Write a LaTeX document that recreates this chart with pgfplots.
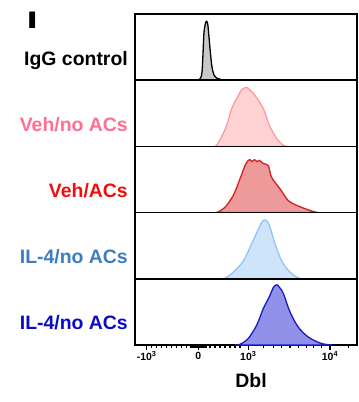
\documentclass[border=0pt]{standalone}
\usepackage{pgfplots}
\pgfplotsset{compat=1.18}
\usepackage{fontspec}
\setmainfont{Liberation Sans}
\definecolor{iggfill}{HTML}{C8C8C8}
\definecolor{vnfill}{HTML}{FFD2D4}
\definecolor{vnline}{HTML}{FF9A9A}
\definecolor{vnlab}{HTML}{FF6F93}
\definecolor{vafill}{HTML}{EE9A9A}
\definecolor{valine}{HTML}{D71F1F}
\definecolor{valab}{HTML}{F20D0D}
\definecolor{lbfill}{HTML}{CDE4FB}
\definecolor{lbline}{HTML}{90C4F8}
\definecolor{lblab}{HTML}{3B7DBF}
\definecolor{dbfill}{HTML}{9191EA}
\definecolor{dbline}{HTML}{1A1ACC}
\definecolor{dblab}{HTML}{0A0AC8}
\pgfplotsset{
  panel/.style={
    scale only axis, width=222bp, height=66.2bp,
    xmin=0, xmax=222, ymin=0, ymax=100,
    xtick=\empty, ytick=\empty,
    axis line style={line width=1.5bp, black},
    anchor=north west,
  },
  curve/.style={smooth, tension=0.55, line width=1.3bp},
}
\begin{document}
\begin{tikzpicture}
\path[use as bounding box] (0,0) rectangle (359bp,-402bp);
% panel 1: IgG control
\begin{axis}[panel, at={(135bp,-14bp)}]
\addplot[curve, draw=black, fill=iggfill] coordinates {
(60,0) (64,0.5) (65.5,3) (67,12) (68,40) (69,72) (70.5,86) (71.7,89) (72.8,84) (74,65) (75.5,40) (77,20) (79,8) (82,3) (86,1) (90,0)
} \closedcycle;
\end{axis}
% panel 2: Veh/no ACs
\begin{axis}[panel, at={(135bp,-80.2bp)}]
\addplot[curve, draw=vnline, fill=vnfill] coordinates {
(78,0) (81,1) (85.7,12) (91.7,32) (96.7,57) (103.3,77) (107,86) (111.7,89) (115,85) (120,77) (128.3,57) (134.3,32) (141.7,12) (148,2) (152,0)
} \closedcycle;
\end{axis}
% panel 3: Veh/ACs
\begin{axis}[panel, at={(135bp,-146.4bp)}]
\addplot[curve, draw=valine, fill=vafill] coordinates {
(80,0) (83,1) (90,8) (98.3,26) (105,51) (110,71) (113.3,79) (115,80) (117,77) (119.5,80) (122,77) (124.3,79) (128.3,74) (133.3,71) (136.7,53) (145,36) (153.3,18) (161.7,11) (171.7,5) (180,1) (184,0)
} \closedcycle;
\end{axis}
% panel 4: IL-4/no ACs (light blue)
\begin{axis}[panel, at={(135bp,-212.6bp)}]
\addplot[curve, draw=lbline, fill=lbfill] coordinates {
(86,0) (90,1) (98.3,10) (108.3,27) (116.7,53) (123.3,75) (127,86) (130,89) (132.5,86) (135,78) (140,53) (146.7,27) (155,10) (163,1.5) (167,0)
} \closedcycle;
\end{axis}
% panel 5: IL-4/no ACs (dark blue)
\begin{axis}[panel, at={(135bp,-278.8bp)},
  xtick={11.7,63.3,113.3,195},
  xticklabels={-10\textsuperscript{3},0,10\textsuperscript{3},10\textsuperscript{4}},
  minor xtick={16.7,21.7,26.7,31.7,36.7,41.7,46.7,51.7,56,58,60,61.5,62.5,64.2,65.5,67,69,71,75,80,85,90,95,100,105,128.3,138.3,146.7,155,163.3,171.7,178.3,186.7,213.3},
  xtick pos=bottom, tick align=outside,
  major tick length=5bp, minor tick length=3bp,
  every tick/.style={black, line width=1.1bp},
  xticklabel style={font=\bfseries\fontsize{10.5}{12}\selectfont, inner sep=1.5bp},
]
\addplot[curve, draw=dbline, fill=dbfill] coordinates {
(100,0) (105,1) (113.3,10) (121.7,30) (128.3,55) (135,75) (138.3,87) (141.7,91) (144,88) (148.3,78) (155,50) (163.3,27) (173.3,12) (185,3) (193,0.5) (197,0)
} \closedcycle;
\end{axis}
% labels
\begin{scope}[every node/.style={anchor=base east, inner sep=0pt, font=\bfseries\fontsize{19.5}{22}\selectfont}]
\node[text=black] at (128bp,-65.5bp) {IgG control};
\node[text=vnlab] at (128bp,-131bp) {Veh/no ACs};
\node[text=valab] at (128bp,-197bp) {Veh/ACs};
\node[text=lblab] at (128bp,-263bp) {IL-4/no ACs};
\node[text=dblab] at (128bp,-329bp) {IL-4/no ACs};
\end{scope}
\node[anchor=base, inner sep=0pt, font=\bfseries\fontsize{19.5}{22}\selectfont] at (251bp,-387bp) {Dbl};
\node[anchor=base west, inner sep=0pt, font=\bfseries\fontsize{24}{26}\selectfont] at (26.5bp,-28bp) {\scalebox{1.7}[1]{I}};
\end{tikzpicture}
\end{document}
